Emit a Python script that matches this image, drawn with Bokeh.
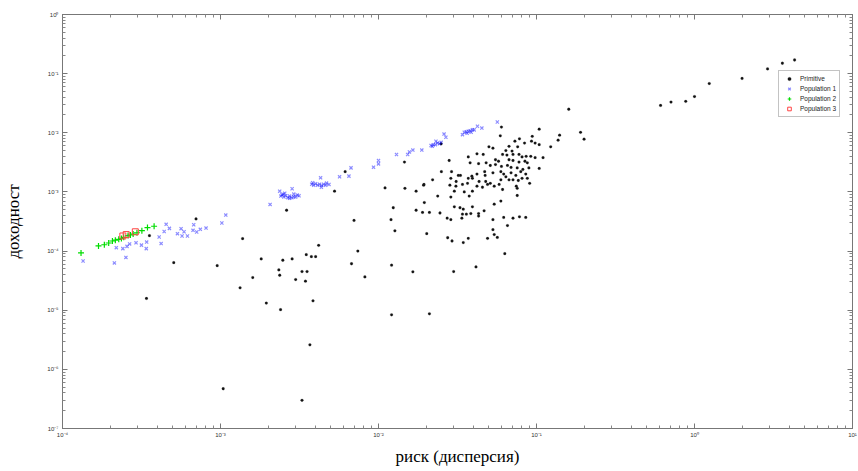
from bokeh.plotting import figure
from bokeh.models import Range1d, LogAxis, FixedTicker, CustomJSTickFormatter
from bokeh.embed import file_html
from bokeh.resources import INLINE

# ---------------- data ----------------
primitive_risk = [
    4.3, 3.6, 2.9, 2.0, 1.24, 1.0, 0.88, 0.71, 0.61, 0.16, 0.19, 0.20, 0.14, 0.137, 0.104,
    0.060, 0.059, 0.123, 0.078, 0.094, 0.098, 0.093, 0.084, 0.104, 0.073, 0.076, 0.067, 0.070, 0.064,
    0.050, 0.053, 0.042, 0.046, 0.061, 0.065, 0.071, 0.0775, 0.081, 0.086, 0.092, 0.098, 0.110,
    0.055, 0.0575, 0.067, 0.071, 0.0775, 0.0845, 0.0875, 0.037, 0.038, 0.028, 0.043, 0.048, 0.051,
    0.055, 0.060, 0.0655, 0.069, 0.0755, 0.082, 0.0895, 0.104, 0.025, 0.029, 0.032, 0.033, 0.039,
    0.042, 0.047, 0.0473, 0.053, 0.0595, 0.062, 0.069, 0.074, 0.0795, 0.0855, 0.081, 0.064, 0.0595,
    0.067, 0.071, 0.0767, 0.0875, 0.0905, 0.022, 0.0287, 0.031, 0.037, 0.0393, 0.0433, 0.0477, 0.049,
    0.051, 0.054, 0.058, 0.0455, 0.042, 0.0366, 0.034, 0.0309, 0.0283, 0.0194, 0.0302, 0.0349, 0.0393,
    0.061, 0.0755, 0.0745, 0.0755, 0.0375, 0.0237, 0.0287, 0.0195, 0.0595, 0.054, 0.0302, 0.0328,
    0.0344, 0.0393, 0.0466, 0.043, 0.0384, 0.034, 0.036, 0.019, 0.021, 0.0245, 0.0272, 0.0287, 0.0337,
    0.043, 0.053, 0.062, 0.071, 0.078, 0.0855, 0.0655, 0.053, 0.054, 0.0565, 0.049, 0.037, 0.0344,
    0.0292, 0.0274, 0.0202, 0.063, 0.0414, 0.0299,
    0.0249, 0.0146, 0.00615, 0.00527, 0.011, 0.0147, 0.0173, 0.0193,
    0.00262, 0.0124, 0.0173, 0.0070, 0.012, 0.0127, 0.00138, 0.00418, 0.00181, 0.00248, 0.00284,
    0.00349, 0.00376, 0.0040, 0.0074, 0.00234, 0.00237, 0.00328, 0.00353, 0.00299, 0.00345, 0.0016,
    0.00675, 0.0121, 0.0165, 0.0082, 0.00133, 0.00195, 0.0024, 0.00385, 0.0121, 0.021,
    0.000355, 0.0007, 0.000506, 0.000953, 0.00034, 0.00368, 0.00104, 0.00328,
]
primitive_return = [
    0.17, 0.15, 0.12, 0.083, 0.068, 0.041, 0.034, 0.033, 0.029, 0.025, 0.0102, 0.0078, 0.0091, 0.0075, 0.0115,
    0.0125, 0.0089, 0.0058, 0.0079, 0.0087, 0.0067, 0.0072, 0.0067, 0.0063, 0.0072, 0.0058, 0.0059, 0.0049, 0.0050,
    0.0058, 0.0055, 0.0044, 0.0043, 0.0043, 0.0042, 0.0043, 0.0043, 0.0039, 0.0040, 0.0040, 0.0038, 0.0038,
    0.0035, 0.0033, 0.0035, 0.0034, 0.0032, 0.0033, 0.0031, 0.0039, 0.0031, 0.0034, 0.0030, 0.0031, 0.0028,
    0.0029, 0.0027, 0.0028, 0.0026, 0.00255, 0.0024, 0.00255, 0.0025, 0.0022, 0.0022, 0.0019, 0.0019, 0.00185,
    0.0020, 0.0022, 0.0019, 0.0021, 0.0022, 0.0020, 0.0021, 0.0019, 0.0022, 0.0020, 0.0017, 0.0018, 0.0016,
    0.0016, 0.0016, 0.00156, 0.0017, 0.0014, 0.0016, 0.0017, 0.0015, 0.0017, 0.0017, 0.0015, 0.0015, 0.00134,
    0.0014, 0.00125, 0.00134, 0.0012, 0.00125, 0.0014, 0.00134, 0.00125, 0.0013, 0.00134, 0.00103, 0.0010, 0.00103,
    0.0011, 0.00115, 0.00125, 0.00087, 0.00085, 0.00085, 0.00082, 0.00066, 0.00070, 0.00062, 0.00056, 0.00054,
    0.00051, 0.00056, 0.00048, 0.00043, 0.00043, 0.00042, 0.00042, 0.00045, 0.00045, 0.00044, 0.00036, 0.00034, 0.00036,
    0.00039, 0.00034, 0.00037, 0.00036, 0.00038, 0.00037, 0.00027, 0.00023, 0.00019, 0.00017, 0.000164, 0.000164, 0.000139,
    0.000148, 0.000168, 0.000197, 0.0000905, 0.000054, 0.000045,
    0.0065, 0.0032, 0.0022, 0.00103, 0.00117, 0.00115, 0.00103, 0.0013,
    0.00049, 0.00054, 0.00049, 0.00033, 0.00034, 0.00022, 0.000162, 0.000125, 0.0000736, 0.00007, 0.0000736,
    0.000087, 0.0000805, 0.0000805, 0.0001, 0.000048, 0.000039, 0.000045, 0.000045, 0.000033, 0.000031, 0.0000356,
    0.000061, 0.0000577, 0.0000445, 0.0000366, 0.0000239, 0.0000132, 0.0000102, 0.0000144, 0.00000835, 0.0000087,
    0.000182, 0.00035, 0.0000637, 0.0000567, 0.0000158, 0.0000026, 0.00000047, 0.0000003,
]

pop1_risk = [
    0.000135, 0.000213, 0.000252, 0.000219, 0.000241, 0.000256, 0.000266, 0.000292, 0.000316, 0.000339,
    0.000341, 0.000409, 0.000421, 0.00044, 0.000453, 0.000475, 0.000534, 0.000563, 0.000571, 0.000588,
    0.000618, 0.00067, 0.000677, 0.000707, 0.000745, 0.00081, 0.00102, 0.00108,
    0.00206, 0.00237, 0.00249, 0.00284, 0.00314, 0.00241, 0.00252, 0.00259, 0.00267, 0.00274, 0.00283,
    0.00291, 0.00299, 0.00306, 0.00255, 0.00245, 0.00274, 0.00291,
    0.0043, 0.00378, 0.00389, 0.0040, 0.00412, 0.00424, 0.00437, 0.0045, 0.00463, 0.00435, 0.00486,
    0.00383, 0.00469, 0.00567, 0.0065, 0.0067, 0.0093, 0.0100, 0.0100, 0.013, 0.0157, 0.0153, 0.0165, 0.0188,
    0.0215, 0.0222, 0.0229, 0.0236, 0.0243, 0.0231, 0.026, 0.0267, 0.0219, 0.0249,
    0.034, 0.0349, 0.0359, 0.037, 0.038, 0.0393, 0.0403, 0.0364, 0.0386, 0.0423, 0.0451, 0.0565,
]
pop1_return = [
    0.000068, 0.000063, 0.000078, 0.000114, 0.00011, 0.00012, 0.000132, 0.000138, 0.000126, 0.00011,
    0.000142, 0.000173, 0.000134, 0.000214, 0.000283, 0.000242, 0.000197, 0.000239, 0.00018, 0.000212,
    0.00018, 0.000224, 0.000279, 0.00021, 0.000233, 0.000245, 0.000298, 0.000406,
    0.000615, 0.00103, 0.00091, 0.00113, 0.00086, 0.00085, 0.00082, 0.000865, 0.0008, 0.00085, 0.0008,
    0.00083, 0.00082, 0.000885, 0.00095, 0.00089, 0.00078, 0.00092,
    0.00173, 0.00135, 0.0013, 0.00138, 0.0013, 0.00135, 0.00128, 0.00135, 0.0013, 0.0012, 0.00134,
    0.00143, 0.00141, 0.0018, 0.00185, 0.00255, 0.00262, 0.00298, 0.0034, 0.0043, 0.00475, 0.0043, 0.0051, 0.0051,
    0.0061, 0.0063, 0.0063, 0.0067, 0.0065, 0.0072, 0.0095, 0.0084, 0.0059, 0.0069,
    0.0093, 0.0102, 0.0104, 0.0106, 0.0108, 0.0113, 0.0112, 0.0098, 0.0102, 0.0129, 0.012, 0.0152,
]

pop2_risk = [0.000131, 0.000169, 0.000184, 0.000196, 0.000216, 0.000227, 0.000244, 0.00026,
             0.00028, 0.000296, 0.000318, 0.000345, 0.00038, 0.000207, 0.000236, 0.000269]
pop2_return = [0.000093, 0.000122, 0.000128, 0.000137, 0.000153, 0.000158, 0.000171, 0.000183,
               0.000194, 0.000204, 0.000221, 0.00025, 0.000263, 0.000148, 0.000163, 0.000187]

pop3_risk = [0.000241, 0.000253, 0.000289]
pop3_return = [0.00018, 0.00019, 0.000212]

x_label = "риск (дисперсия)"
y_label = "доходност"

# ---------------- figure ----------------
p = figure(width=858, height=471, x_axis_type="log", y_axis_type="log",
           x_range=Range1d(1e-4, 10), y_range=Range1d(1e-7, 1),
           output_backend="svg", toolbar_location=None,
           min_border_left=62, min_border_right=6, min_border_top=14, min_border_bottom=43)
p.background_fill_color = "white"
p.border_fill_color = "white"
p.outline_line_color = "#777777"
p.xgrid.visible = False
p.ygrid.visible = False

xt = [10.0 ** k for k in range(-4, 2)]
xminor = [m * 10.0 ** k for k in range(-4, 1) for m in range(2, 10)]
yt = [10.0 ** k for k in range(-7, 1)]
yminor = [m * 10.0 ** k for k in range(-7, 0) for m in range(2, 10)]

fmt_code = r"""
const sup = {"-":"\u207b","0":"\u2070","1":"\u00b9","2":"\u00b2","3":"\u00b3","4":"\u2074",
             "5":"\u2075","6":"\u2076","7":"\u2077","8":"\u2078","9":"\u2079"};
const e = Math.round(Math.log10(tick));
return "10" + String(e).split("").map(c => sup[c]).join("");
"""

def style_axis(ax, ticks, minor):
    ax.ticker = FixedTicker(ticks=ticks, minor_ticks=minor)
    ax.axis_line_color = "#777777"
    ax.major_tick_line_color = "#777777"
    ax.minor_tick_line_color = "#888888"
    ax.major_tick_in = 5
    ax.major_tick_out = 0
    ax.minor_tick_in = 3
    ax.minor_tick_out = 0

xa = p.xaxis[0]
ya = p.yaxis[0]
style_axis(xa, xt, xminor)
style_axis(ya, yt, yminor)
for ax in (xa, ya):
    ax.formatter = CustomJSTickFormatter(code=fmt_code)
    ax.major_label_text_font = "Liberation Sans"
    ax.major_label_text_font_size = "6px"
    ax.major_label_text_color = "#333333"
    ax.axis_label_text_font = "Liberation Serif"
    ax.axis_label_text_font_size = "17px"
    ax.axis_label_text_font_style = "normal"
    ax.axis_label_text_color = "black"
xa.major_label_standoff = 3
xa.axis_label = x_label
xa.axis_label_standoff = 6
ya.major_label_standoff = 4
ya.axis_label = y_label
ya.axis_label_standoff = 21

top = LogAxis(major_label_text_font_size="1px", major_label_text_alpha=0, major_label_standoff=0)
style_axis(top, xt, xminor)
p.add_layout(top, "above")
right = LogAxis(major_label_text_font_size="1px", major_label_text_alpha=0, major_label_standoff=0)
style_axis(right, yt, yminor)
p.add_layout(right, "right")

# ---------------- marks ----------------
p.scatter(primitive_risk, primitive_return, marker="circle", size=2.8,
          fill_color="#111111", line_color="#444444", line_width=0.4, line_alpha=0.5,
          legend_label="Primitive")
p.scatter(pop1_risk, pop1_return, marker="x", size=4.5,
          line_color="#0000ff", line_alpha=0.45, line_width=1.2,
          legend_label="Population 1")
p.scatter(pop2_risk, pop2_return, marker="cross", size=6,
          line_color="#00dd00", line_width=1.2,
          legend_label="Population 2")
p.scatter(pop3_risk, pop3_return, marker="square", size=6,
          fill_color=None, line_color="#ff4444", line_width=1,
          legend_label="Population 3")

lg = p.legend[0]
lg.location = (716, 311)
lg.label_text_font = "Liberation Sans"
lg.label_text_font_size = "6.5px"
lg.label_text_color = "#222222"
lg.glyph_width = 14
lg.glyph_height = 9
lg.label_height = 9
lg.label_standoff = 4
lg.spacing = 1
lg.padding = 3
lg.margin = 0
lg.border_line_color = "#888888"
lg.border_line_width = 1
lg.background_fill_color = "white"
lg.background_fill_alpha = 1

open("out.html", "w").write(file_html(p, INLINE))
